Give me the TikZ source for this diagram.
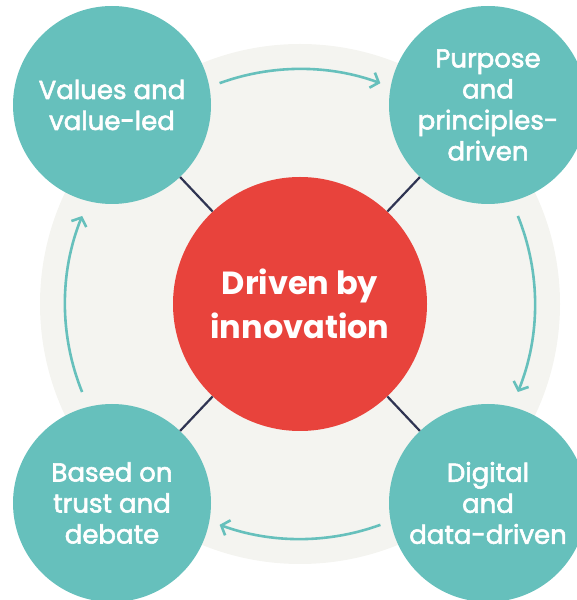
\documentclass[tikz,border=0pt]{standalone}
\usepackage{fontspec}
\setmainfont{Poppins}
\newfontfamily\bubblefont{Poppins}[FakeBold=2.2]
\usetikzlibrary{arrows.meta}
\definecolor{tealc}{HTML}{66C0BC}
\definecolor{redc}{HTML}{E8433C}
\definecolor{bgc}{HTML}{F4F4F0}
\definecolor{navyc}{HTML}{2F3452}
\tikzset{
  bubble/.style={circle, fill=tealc, minimum size=198pt, inner sep=0pt, text=white, align=center,
    font=\bubblefont\fontsize{26}{31}\selectfont},
  hub/.style={circle, fill=redc, minimum size=254pt, inner sep=0pt, text=white, align=center,
    font=\bfseries\fontsize{32}{44}\selectfont},
  link/.style={draw=navyc, line width=2.2pt},
  flow/.style={draw=tealc, line width=2.6pt, -{Straight Barb[length=7pt,width=16pt,line width=2.6pt]}}
}
\begin{document}
\begin{tikzpicture}[x=1pt,y=1pt]
\useasboundingbox (0,0) rectangle (577,600);
\clip (0,0) rectangle (577,600);
\coordinate (c) at (300,296);
\fill[bgc] (c) circle[radius=260];
\node[hub] (hub) at (c) {Driven by\\innovation};
\node[bubble] (tl) at (112,495) {Values and\\value-led};
\node[bubble] (tr) at (488,495) {Purpose\\and\\principles-\\driven};
\node[bubble] (bl) at (112,97) {Based on\\trust and\\debate};
\node[bubble] (br) at (488,97) {Digital\\and\\data-driven};
\draw[link] (tl) -- (hub);
\draw[link] (tr) -- (hub);
\draw[link] (bl) -- (hub);
\draw[link] (br) -- (hub);
\draw[flow] ([shift={(110:235)}]c) arc[start angle=110, end angle=70, radius=235];
\draw[flow] ([shift={(22:235)}]c) arc[start angle=22, end angle=-22, radius=235];
\draw[flow] ([shift={(-70:235)}]c) arc[start angle=-70, end angle=-110, radius=235];
\draw[flow] ([shift={(202:235)}]c) arc[start angle=202, end angle=158, radius=235];
\end{tikzpicture}
\end{document}
